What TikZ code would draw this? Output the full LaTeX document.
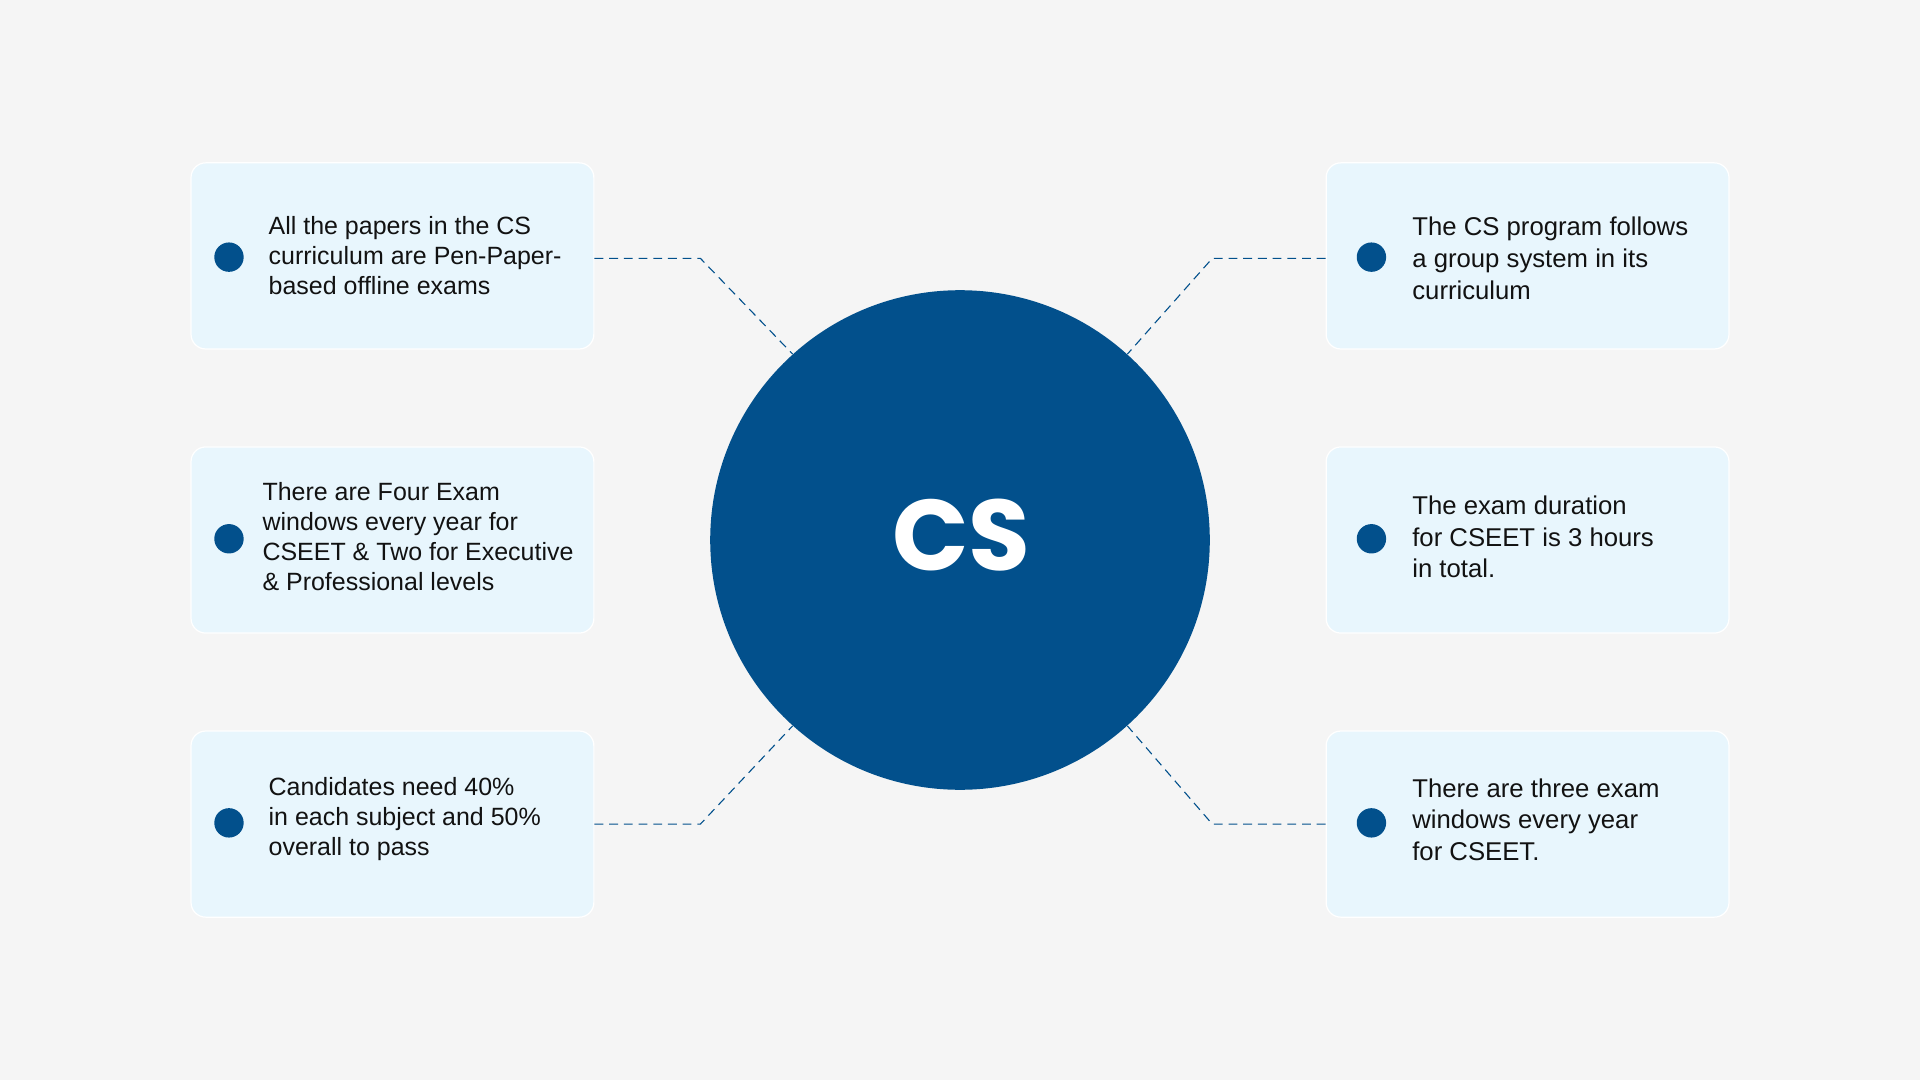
\documentclass[tikz,border=0pt]{standalone}
\usepackage{fontspec}
\setmainfont{Liberation Sans}
\newfontfamily\csfont{Poppins}
\definecolor{bgc}{HTML}{F5F5F5}
\definecolor{csblue}{HTML}{02508C}
\definecolor{boxc}{HTML}{E8F6FD}
\begin{document}
\begin{tikzpicture}[x=0.5pt,y=-0.5pt,
  infobox/.style={draw=white,line width=0.5pt,fill=boxc,rounded corners=6pt,minimum width=164.5pt,minimum height=76pt,inner sep=0pt},
  bullet/.style={circle,fill=csblue,minimum size=12pt,inner sep=0pt},
  ltext/.style={anchor=west,align=left,inner sep=0pt,font=\fontsize{10.2}{12.3}\selectfont,text=black!93},
  rtext/.style={anchor=west,align=left,inner sep=0pt,font=\fontsize{10.5}{12.9}\selectfont,text=black!93},
  link/.style={draw=csblue,line width=0.45pt,dash pattern=on 3.6pt off 2.4pt}]
\fill[bgc] (0,0) rectangle (1568,882);
\useasboundingbox (0,0) rectangle (1568,882);
% boxes
\node[infobox] (b1) at (320.5,209) {};
\node[infobox] (b2) at (320.5,441) {};
\node[infobox] (b3) at (320.5,673) {};
\node[infobox] (b4) at (1247.5,209) {};
\node[infobox] (b5) at (1247.5,441) {};
\node[infobox] (b6) at (1247.5,673) {};
% centre circle
\node[circle,fill=csblue,minimum size=204pt,inner sep=0pt] (c) at (784,441) {};
\node[text=white,font=\csfont\bfseries\fontsize{41}{50}\selectfont] (cst) at (785,437) {CS};
% bullets
\node[bullet] (d1) at (187,210) {};
\node[bullet] (d2) at (187,440) {};
\node[bullet] (d3) at (187,672) {};
\node[bullet] (d4) at (1120,210) {};
\node[bullet] (d5) at (1120,440) {};
\node[bullet] (d6) at (1120,672) {};
% texts
\node[ltext] (t1) at (219,208.5) {All the papers in the CS\\curriculum are Pen-Paper-\\based offline exams};
\node[ltext] (t2) at (214,438) {There are Four Exam\\windows every year for\\CSEET \& Two for Executive\\\& Professional levels};
\node[ltext] (t3) at (219,669) {Candidates need 40\%\\in each subject and 50\%\\overall to pass};
\node[rtext] (t4) at (1153,211) {The CS program follows\\a group system in its\\curriculum};
\node[rtext] (t5) at (1153,438.5) {The exam duration\\for CSEET is 3 hours\\in total.};
\node[rtext] (t6) at (1153,669.5) {There are three exam\\windows every year\\for CSEET.};
% connectors
\coordinate (k1) at (572,211);
\coordinate (k2) at (990,211);
\coordinate (k3) at (572,673);
\coordinate (k4) at (990,673);
\draw[link] (b1.east |- k1) -- (k1) -- (c.132);
\draw[link] (b4.west |- k2) -- (k2) -- (c.48);
\draw[link] (b3.east |- k3) -- (k3) -- (c.228);
\draw[link] (b6.west |- k4) -- (k4) -- (c.312);
\end{tikzpicture}
\end{document}
